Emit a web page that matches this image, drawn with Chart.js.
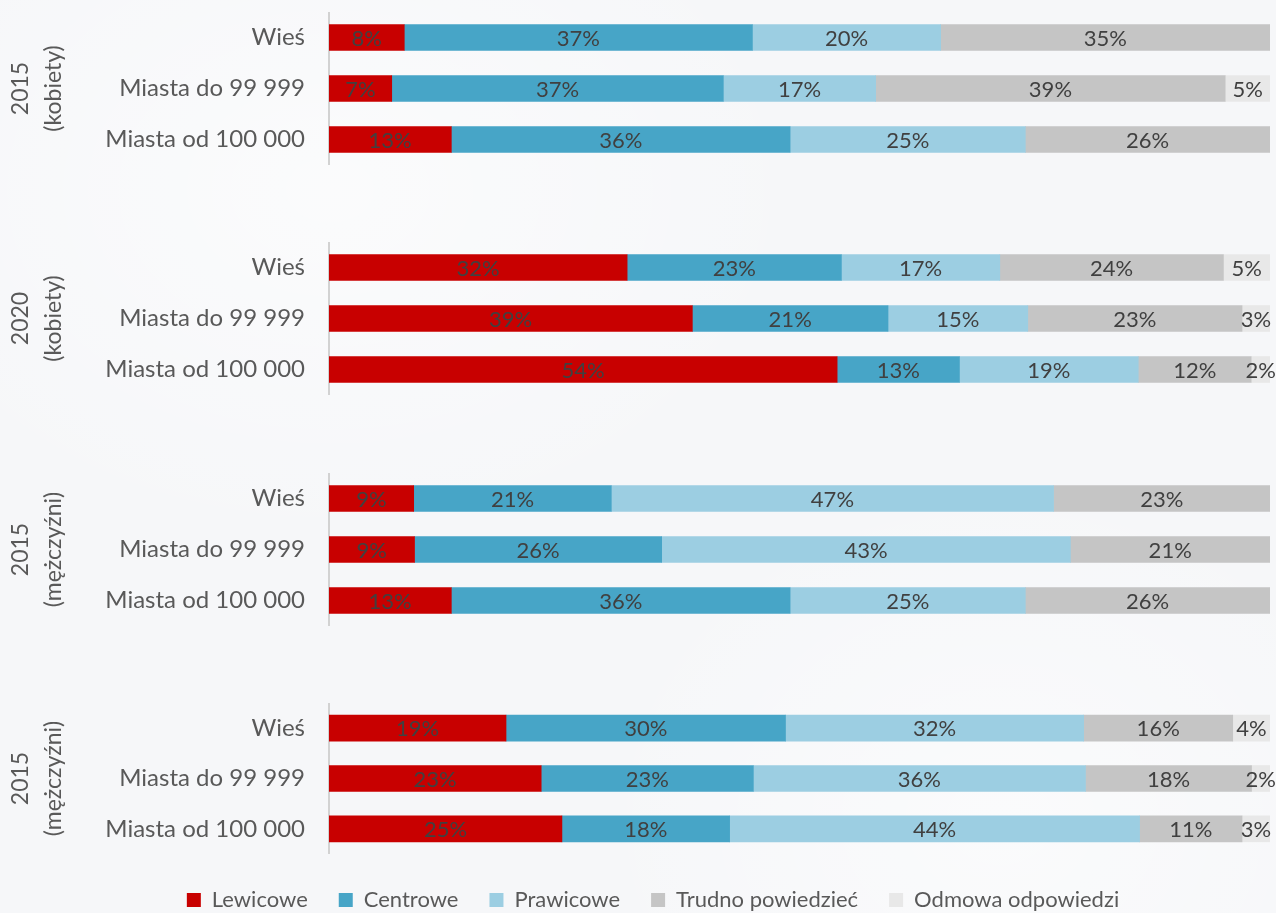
<!DOCTYPE html>
<html>
<head>
<meta charset="utf-8">
<script src="https://cdn.jsdelivr.net/npm/chart.js@4"></script>
<style>
html,body{margin:0;padding:0;width:1276px;height:913px;overflow:hidden;}
body{background:#f6f7f9;position:relative;font-family:Lato,sans-serif;}
.bg{position:absolute;inset:0;background:
 radial-gradient(ellipse 700px 520px at 330px 190px, rgba(255,255,255,0.55), rgba(255,255,255,0) 70%),
 radial-gradient(ellipse 600px 500px at 1000px 820px, rgba(255,255,255,0.5), rgba(255,255,255,0) 70%);}
.box{position:absolute;left:0;width:1276px;}
</style>
</head>
<body>
<div class="bg"></div>
<div class="box" style="top:12px;height:153px"><canvas id="c0"></canvas></div>
<div class="box" style="top:242px;height:153px"><canvas id="c1"></canvas></div>
<div class="box" style="top:473px;height:153px"><canvas id="c2"></canvas></div>
<div class="box" style="top:703px;height:151px"><canvas id="c3"></canvas></div>
<div class="box" style="top:858px;height:120px"><canvas id="leg"></canvas></div>
<script>
// ---- data ----
const groupTitles = [['2015','(kobiety)'], ['2020','(kobiety)'], ['2015','(mężczyźni)'], ['2015','(mężczyźni)']];
const categories = ['Wieś', 'Miasta do 99 999', 'Miasta od 100 000'];
const seriesNames = ['Lewicowe', 'Centrowe', 'Prawicowe', 'Trudno powiedzieć', 'Odmowa odpowiedzi'];
// values per group: [Wieś, Miasta do 99 999, Miasta od 100 000]
const lewicowe  = [[8, 7, 13], [32, 39, 54], [9, 9, 13], [19, 23, 25]];
const centrowe  = [[37, 37, 36], [23, 21, 13], [21, 26, 36], [30, 23, 18]];
const prawicowe = [[20, 17, 25], [17, 15, 19], [47, 43, 25], [32, 36, 44]];
const trudno    = [[35, 39, 26], [24, 23, 12], [23, 21, 26], [16, 18, 11]];
const odmowa    = [[0, 5, 0], [5, 3, 2], [0, 0, 0], [4, 2, 3]];

const series = [lewicowe, centrowe, prawicowe, trudno, odmowa];
const colors = ['#c80000', '#47a5c7', '#9ccee2', '#c5c5c5', '#e8e8e8'];

const labelPlugin = {
  id: 'segLabels',
  afterDatasetsDraw(chart) {
    const ctx = chart.ctx;
    ctx.save();
    ctx.font = '22px Lato';
    ctx.fillStyle = '#404040';
    ctx.textAlign = 'center';
    ctx.textBaseline = 'middle';
    chart.data.datasets.forEach((ds, di) => {
      const meta = chart.getDatasetMeta(di);
      meta.data.forEach((el, i) => {
        const v = ds.labelValues[i];
        if (!v) return;
        const p = el.getCenterPoint();
        ctx.fillText(v + '%', p.x, p.y + 1);
      });
    });
    ctx.restore();
  }
};

for (let g = 0; g < 4; g++) {
  const sums = categories.map((_, i) => series.reduce((s, arr) => s + arr[g][i], 0));
  const datasets = series.map((arr, si) => ({
    label: seriesNames[si],
    data: arr[g].map((v, i) => v / sums[i] * 100),
    labelValues: arr[g],
    backgroundColor: colors[si],
    borderWidth: 0,
    barThickness: 26
  }));
  new Chart(document.getElementById('c' + g), {
    type: 'bar',
    data: { labels: categories, datasets },
    plugins: [labelPlugin],
    options: {
      indexAxis: 'y',
      responsive: true,
      maintainAspectRatio: false,
      animation: false,
      layout: { padding: { left: 0, right: 6, top: 0, bottom: 0 } },
      plugins: { legend: { display: false }, tooltip: { enabled: false } },
      scales: {
        x: { stacked: true, min: 0, max: 100, display: false },
        y: {
          stacked: true,
          grid: { display: false, drawTicks: false },
          border: { display: true, color: '#d2d2d2', width: 2 },
          ticks: { color: '#595959', font: { family: 'Lato', size: 24 }, padding: 24 },
          title: { display: true, text: groupTitles[g], color: '#595959',
                   font: { family: 'Lato', size: 23, lineHeight: 1.45 }, padding: { top: 4, bottom: 0 } },
          afterFit(scale) { scale.width = 329; scale.paddingTop = 0; scale.paddingBottom = 0; }
        }
      }
    }
  });
}

new Chart(document.getElementById('leg'), {
  type: 'bar',
  data: { labels: [''], datasets: seriesNames.map((n, si) => ({ label: n, data: [0], backgroundColor: colors[si], borderWidth: 0 })) },
  options: {
    responsive: true, maintainAspectRatio: false, animation: false,
    layout: { padding: { left: 30 } },
    scales: { x: { display: false }, y: { display: false } },
    plugins: {
      tooltip: { enabled: false },
      legend: { position: 'top', labels: { color: '#595959', font: { family: 'Lato', size: 22 }, boxWidth: 14, boxHeight: 14, padding: 31 } }
    }
  }
});
</script>
</body>
</html>
